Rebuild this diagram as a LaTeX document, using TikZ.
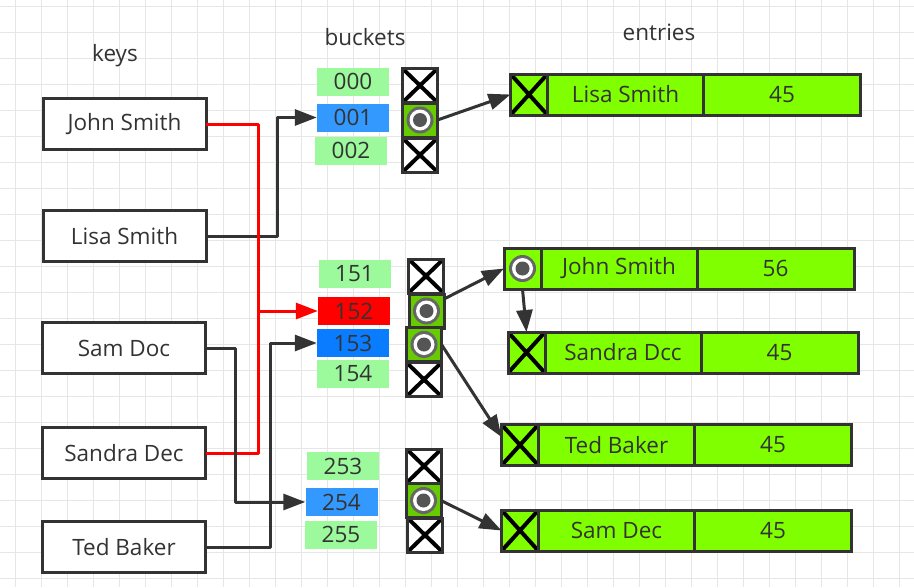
\documentclass[tikz,border=0pt]{standalone}
\usepackage{fontspec}
\setmainfont{Open Sans}
\usetikzlibrary{arrows.meta,positioning}

\definecolor{ink}{HTML}{333333}
\definecolor{gridgray}{HTML}{E6E6E6}
\definecolor{palegr}{HTML}{9CFA9C}
\definecolor{skyblue}{HTML}{3399FF}
\definecolor{deepblue}{HTML}{0A7CFF}
\definecolor{cellgreen}{HTML}{66CC00}
\definecolor{limegreen}{HTML}{80FF00}
\definecolor{ringgray}{HTML}{666666}
\definecolor{dotgray}{HTML}{555555}

\tikzset{
  txt/.style={text=ink, font=\fontsize{22.5}{26}\selectfont},
  keybox/.style={txt, draw=ink, line width=3pt, fill=white, minimum width=163pt,
    minimum height=51pt, inner sep=0pt, outer sep=0pt},
  bucket/.style={txt, minimum width=72pt, minimum height=28pt, inner sep=0pt},
  slot/.style={draw=ink, line width=3pt, minimum width=35pt, minimum height=34pt,
    inner sep=0pt, outer sep=0pt},
  xmark/.style={path picture={
    \draw[black, line width=4pt]
      (path picture bounding box.north west) -- (path picture bounding box.south east)
      (path picture bounding box.north east) -- (path picture bounding box.south west);}},
  ring/.style={path picture={
    \fill[ringgray] (path picture bounding box.center) circle (13.5pt);
    \fill[white] (path picture bounding box.center) circle (10.5pt);
    \fill[dotgray] (path picture bounding box.center) circle (7pt);}},
  freeslot/.style={slot, fill=white, xmark},
  usedslot/.style={slot, fill=cellgreen, ring},
  field/.style={txt, draw=ink, line width=3pt, fill=limegreen, minimum height=41pt,
    inner sep=0pt, outer sep=0pt},
  nextnil/.style={field, minimum width=37pt, xmark},
  nextptr/.style={field, minimum width=37pt, ring},
  namefield/.style={field, minimum width=156pt},
  valfield/.style={field, minimum width=157pt},
  link/.style={draw=ink, line width=3pt, line join=round, -{Triangle[length=22pt,width=16pt]}},
  redlink/.style={draw=red, line width=3pt, line join=round, -{Triangle[length=22pt,width=16pt]}},
  redline/.style={draw=red, line width=3pt, line join=round},
  gridline/.style={draw=gridgray, line width=1pt}
}

\begin{document}
\begin{tikzpicture}[x=1pt, y=-1pt]

  % background and grid
  \fill[white] (0,0) rectangle (914,587);
  \useasboundingbox (0,0) rectangle (914,587);
  \foreach \gx in {15,41,...,899} \draw[gridline] (\gx,0) -- (\gx,587);
  \foreach \gy in {6,32,...,578} \draw[gridline] (0,\gy) -- (914,\gy);

  % headings
  \node[txt] (hkeys) at (115,56) {keys};
  \node[txt] (hbuckets) at (365,37) {buckets};
  \node[txt] (hentries) at (659,32) {entries};

  % keys
  \node[keybox] (kjohn) at (124.5,124) {John Smith};
  \node[keybox] (klisa) at (124.5,236) {Lisa Smith};
  \node[keybox] (ksam) at (124,348) {Sam Doc};
  \node[keybox] (ksandra) at (124,453) {Sandra Dec};
  \node[keybox] (kted) at (124,547) {Ted Baker};

  % buckets 000-002
  \node[bucket, fill=palegr] (b000) at (353,81.5) {000};
  \node[bucket, fill=skyblue] (b001) at (353,117.5) {001};
  \node[bucket, fill=palegr] (b002) at (351,150.5) {002};
  \node[freeslot] (s000) at (420,85.5) {};
  \node[usedslot] (s001) at (420,120) {};
  \node[freeslot] (s002) at (420,155) {};

  % buckets 151-154
  \node[bucket, fill=palegr] (b151) at (354.5,274) {151};
  \node[bucket, fill=red] (b152) at (354,311) {152};
  \node[bucket, fill=deepblue] (b153) at (353,343) {153};
  \node[bucket, fill=palegr] (b154) at (353,374) {154};
  \node[freeslot] (s151) at (426,276) {};
  \node[usedslot] (s152) at (426.5,311) {};
  \node[usedslot] (s153) at (424,344.5) {};
  \node[freeslot] (s154) at (424,379.5) {};

  % buckets 253-255
  \node[bucket, fill=palegr] (b253) at (343,466) {253};
  \node[bucket, fill=skyblue] (b254) at (341.5,502) {254};
  \node[bucket, fill=palegr] (b255) at (341,534.5) {255};
  \node[freeslot] (s253) at (424,466) {};
  \node[usedslot] (s254) at (423.5,500.5) {};
  \node[freeslot] (s255) at (425,535) {};

  % entries
  \node[nextnil] (elisa) at (529,94.5) {};
  \node[namefield, right=0pt of elisa] (elisaname) {Lisa Smith};
  \node[valfield, right=0pt of elisaname] (elisaval) {45};

  \node[nextptr] (ejohn) at (522.5,268.5) {};
  \node[namefield, right=0pt of ejohn] (ejohnname) {John Smith};
  \node[valfield, right=0pt of ejohnname] (ejohnval) {56};

  \node[nextnil] (esandra) at (526.5,352.5) {};
  \node[namefield, right=0pt of esandra] (esandraname) {Sandra Dcc};
  \node[valfield, right=0pt of esandraname] (esandraval) {45};

  \node[nextnil] (eted) at (520,445) {};
  \node[namefield, right=0pt of eted] (etedname) {Ted Baker};
  \node[valfield, right=0pt of etedname] (etedval) {45};

  \node[nextnil] (esam) at (520,530.5) {};
  \node[namefield, right=0pt of esam] (esamname) {Sam Dec};
  \node[valfield, right=0pt of esamname] (esamval) {45};

  % key -> bucket
  \coordinate (redjoin) at (258,311);
  \draw[link] (klisa.east) -- ++(71,0) |- (b001.west);
  \draw[redline] (ksandra.east) -| (redjoin);
  \draw[redlink] (kjohn.east) -| (redjoin) -- (b152.west);
  \draw[link] (ksam.east) -- ++(30,0) |- (b254.west);
  \draw[link] (kted.east) -- ++(65,0) |- (b153.west);

  % bucket -> entry
  \draw[link] (s001.east) -- (elisa.west);
  \draw[link] ([yshift=12pt]s152.east) -- (ejohn.west);
  \draw[link] (s153.east) -- ([yshift=8pt]eted.west);
  \draw[link] (ejohn.south) -- (esandra.north);
  \draw[link] (s254.east) -- (esam.west);

\end{tikzpicture}
\end{document}
